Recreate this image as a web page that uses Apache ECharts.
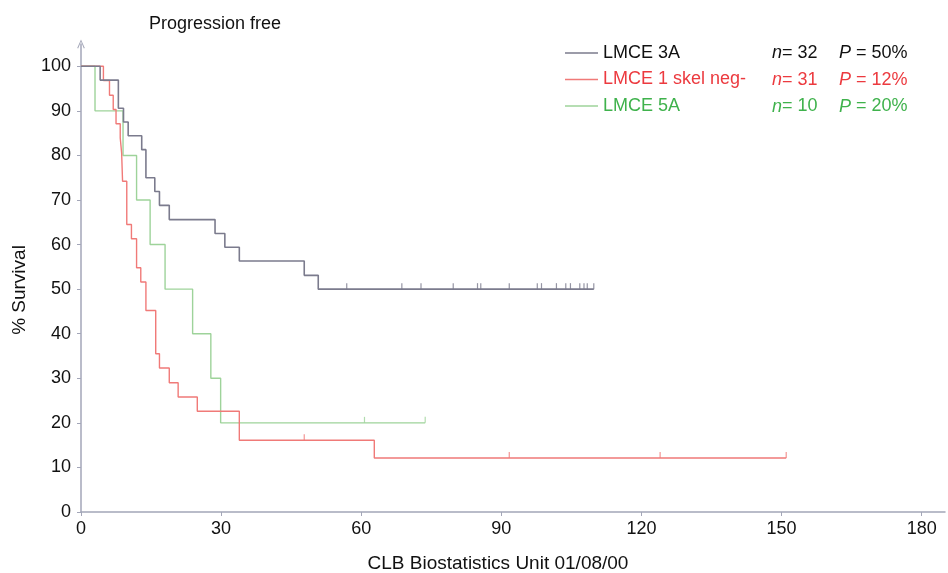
<!DOCTYPE html>
<html>
<head>
<meta charset="utf-8">
<script src="https://cdn.jsdelivr.net/npm/echarts@6/dist/echarts.min.js"></script>
<style>
    html, body { margin: 0; padding: 0; background: #fff; }
    #chart { width: 948px; height: 573px; }
</style>
</head>
<body>
<div id="chart"></div>
<script>
// Kaplan-Meier steps (months, % survival)
const times3A = [0, 4.1, 8.0, 9.1, 10.1, 13.0, 13.9, 15.8, 16.8, 18.9, 28.7, 30.8, 33.9, 47.8, 50.8, 109.8];
const surv3A = [100, 96.9, 90.6, 87.5, 84.4, 81.3, 75.0, 71.9, 68.8, 65.6, 62.5, 59.4, 56.3, 53.1, 50.0, 50.0];
const cens3A = [56.9, 68.7, 72.8, 79.7, 84.9, 85.6, 91.7, 97.7, 98.6, 101.8, 103.8, 104.8, 106.8, 107.7, 108.4, 109.8];
const censSurv3A = [50, 50, 50, 50, 50, 50, 50, 50, 50, 50, 50, 50, 50, 50, 50, 50];

const timesSkel = [0, 4.8, 6.1, 6.9, 7.5, 8.4, 8.7, 8.9, 9.8, 10.8, 11.9, 12.8, 13.9, 16.0, 16.8, 18.9, 20.8, 24.9, 33.9, 62.8, 151];
const survSkel = [100, 96.8, 93.5, 90.3, 87.1, 83.9, 80.6, 74.2, 64.5, 61.3, 54.8, 51.6, 45.2, 35.5, 32.3, 29.0, 25.8, 22.6, 16.1, 12.1, 12.1];
const censSkel = [47.8, 91.7, 124, 151];
const censSurvSkel = [16.1, 12.1, 12.1, 12.1];

const times5A = [0, 3.0, 9.0, 11.9, 14.8, 18.0, 23.9, 27.8, 29.9, 73.7];
const surv5A = [100, 90, 80, 70, 60, 50, 40, 30, 20, 20];
const cens5A = [60.7, 73.7];
const censSurv5A = [20, 20];

const groupNames = ['LMCE 3A', 'LMCE 1 skel neg-', 'LMCE 5A'];
const groupN = ['32', '31', '10'];
const groupP = ['50%', '12%', '20%'];

const xTicks = [0, 30, 60, 90, 120, 150, 180];
const yTicks = [0, 10, 20, 30, 40, 50, 60, 70, 80, 90, 100];

const lineColors = ['#7b7b8d', '#f07a78', '#9ed39a'];
const textColors = ['#111111', '#ec3a3f', '#3fb24c'];

const zip = (a, b) => a.map((v, i) => [v, b[i]]);

const curves = [zip(times3A, surv3A), zip(timesSkel, survSkel), zip(times5A, surv5A)];
const censors = [zip(cens3A, censSurv3A), zip(censSkel, censSurvSkel), zip(cens5A, censSurv5A)];

const chart = echarts.init(document.getElementById('chart'));

const series = [];
curves.forEach((data, i) => {
    series.push({
        name: groupNames[i],
        type: 'line',
        step: 'end',
        data: data,
        symbol: 'none',
        lineStyle: { color: lineColors[i], width: i === 0 ? 1.6 : 1.4 },
        itemStyle: { color: lineColors[i] },
        z: 3 - i
    });
});
censors.forEach((data, i) => {
    series.push({
        name: groupNames[i] + ' censored',
        type: 'scatter',
        data: data,
        symbol: 'rect',
        symbolSize: [1.2, 6],
        symbolOffset: [0, -3],
        itemStyle: { color: lineColors[i] },
        z: 3 - i
    });
});

const labelFont = 'Liberation Sans, Arial, sans-serif';
const rowY = [53, 80, 106.5];

const italic = (color) => ({ i: { fontStyle: 'italic', fontSize: 18, fontFamily: labelFont, fill: color } });

const statTexts = [];
groupN.forEach((n, i) => {
    statTexts.push({
        type: 'text',
        x: 772,
        y: rowY[i],
        style: {
            text: '{i|n}= ' + n,
            fill: textColors[i],
            font: '18px ' + labelFont,
            verticalAlign: 'middle',
            rich: italic(textColors[i])
        }
    });
    statTexts.push({
        type: 'text',
        x: 839,
        y: rowY[i],
        style: {
            text: '{i|P} = ' + groupP[i],
            fill: textColors[i],
            font: '18px ' + labelFont,
            verticalAlign: 'middle',
            rich: italic(textColors[i])
        }
    });
});

const option = {
    backgroundColor: '#ffffff',
    animation: false,
    title: {
        text: 'Progression free',
        left: 144,
        top: 10,
        textStyle: { fontFamily: labelFont, fontSize: 18, fontWeight: 'normal', color: '#111' }
    },
    legend: {
        orient: 'vertical',
        left: 565,
        top: 44,
        padding: 0,
        icon: 'rect',
        itemWidth: 33,
        itemHeight: 1.5,
        itemGap: 8.5,
        data: groupNames.map((name, i) => ({
            name: name,
            textStyle: { color: textColors[i] }
        })),
        textStyle: { fontFamily: labelFont, fontSize: 18 }
    },
    grid: { left: 81, right: 3, top: 44, bottom: 61, containLabel: false, outerBoundsMode: 'none' },
    xAxis: {
        type: 'value',
        min: 0,
        max: 185,
        name: 'CLB Biostatistics Unit 01/08/00',
        nameLocation: 'middle',
        nameGap: 42,
        nameTextStyle: { fontFamily: labelFont, fontSize: 19, color: '#111', padding: [0, 30, 0, 0] },
        axisLine: { lineStyle: { color: '#a3a6b8', width: 1.5 } },
        axisTick: { customValues: xTicks, length: 4, lineStyle: { color: '#a3a6b8' } },
        axisLabel: { customValues: xTicks, margin: 8, fontFamily: labelFont, fontSize: 18, color: '#111' },
        splitLine: { show: false }
    },
    yAxis: {
        type: 'value',
        min: 0,
        max: 105,
        name: '% Survival',
        nameLocation: 'middle',
        nameGap: 52,
        nameTextStyle: { fontFamily: labelFont, fontSize: 19, color: '#111', padding: [0, 24, 0, 0] },
        axisLine: {
            show: true,
            symbol: ['none', 'path://M0,9 L4,0 L8,9 L7,9.5 L4,2.2 L1,9.5 Z'],
            symbolSize: [8, 9],
            lineStyle: { color: '#a3a6b8', width: 1.5 }
        },
        axisTick: { show: true, customValues: yTicks, length: 4, lineStyle: { color: '#a3a6b8' } },
        axisLabel: { customValues: yTicks, margin: 10, fontFamily: labelFont, fontSize: 18, color: '#111' },
        splitLine: { show: false }
    },
    graphic: statTexts,
    series: series
};

chart.setOption(option);
</script>
</body>
</html>
